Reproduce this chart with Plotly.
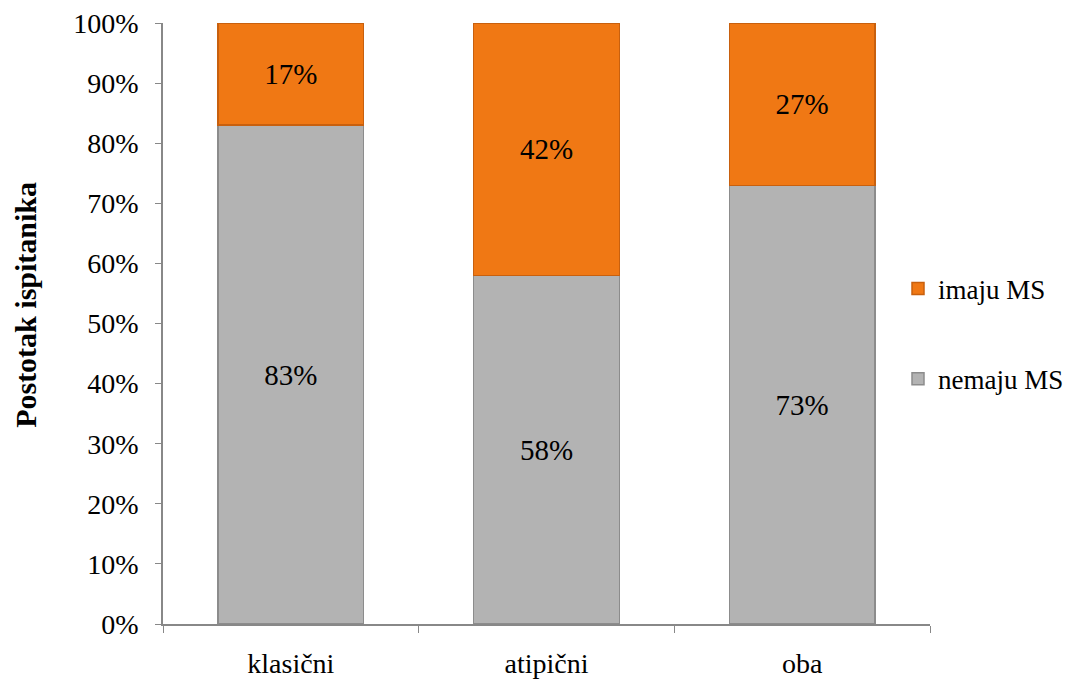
import plotly.graph_objects as go

categories = ['klasični', 'atipični', 'oba']
nemaju_ms = [83, 58, 73]
imaju_ms = [17, 42, 27]
y_ticks = [0, 10, 20, 30, 40, 50, 60, 70, 80, 90, 100]

font_family = 'Liberation Serif'

fig = go.Figure()

fig.add_trace(go.Bar(
    x=categories, y=nemaju_ms, name='nemaju MS',
    marker=dict(color='#b3b3b3', line=dict(color='#8c8c8c', width=1.5)),
    text=[f'{v}%' for v in nemaju_ms], textposition='inside',
    insidetextanchor='middle', textfont=dict(color='black', size=29, family=font_family),
    legendgroup='nemaju', legendrank=2
))
fig.add_trace(go.Bar(
    x=categories, y=imaju_ms, name='imaju MS',
    marker=dict(color='#f07814', line=dict(color='#c8600e', width=1.5)),
    text=[f'{v}%' for v in imaju_ms], textposition='inside',
    insidetextanchor='middle', textfont=dict(color='black', size=29, family=font_family),
    legendgroup='imaju', legendrank=1
))

# page body adds an 8px margin, so the figure is 8px smaller each way
fig.update_layout(
    barmode='stack',
    bargap=0.43,
    width=1066, height=676,
    margin=dict(l=155, r=144, t=15, b=60, autoexpand=False),
    plot_bgcolor='white', paper_bgcolor='white',
    font=dict(family=font_family, size=28, color='black'),
    showlegend=True,
    legend=dict(xref='container', yref='container', x=890 / 1066, y=1 - 326 / 676,
                xanchor='left', yanchor='middle',
                traceorder='grouped', tracegroupgap=52,
                font=dict(size=27, family=font_family), itemwidth=30),
    annotations=[dict(
        text='<b>Postotak ispitanika</b>', textangle=-90,
        xref='paper', yref='paper', x=(26 - 163) / 767, y=0.531,
        xanchor='center', yanchor='middle', showarrow=False,
        font=dict(size=30, family=font_family, color='black'),
    )],
)

fig.update_yaxes(
    range=[0, 100], tickvals=y_ticks, ticktext=[f'{v}%' for v in y_ticks],
    showgrid=False, showline=True, linecolor='#888888', linewidth=1.5,
    ticks='outside', ticklen=6, tickcolor='#888888', ticklabelstandoff=11,
    zeroline=False, automargin=False, ticklabeloverflow='allow',
)
fig.update_xaxes(
    showline=True, linecolor='#888888', linewidth=1.5,
    ticks='outside', ticklen=7, tickcolor='#888888', tickson='boundaries',
    range=[-0.5, 2.5], showgrid=False, ticklabelstandoff=14, automargin=False,
    ticklabeloverflow='allow',
)

fig.write_html('out.html')
